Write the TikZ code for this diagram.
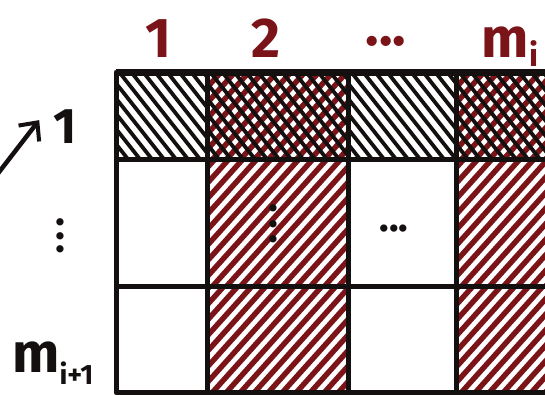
\documentclass[tikz,border=0pt]{standalone}
\usepackage{fontspec}
\setmainfont{Fira Sans}
\usetikzlibrary{calc,arrows.meta}
\definecolor{inkred}{HTML}{7A1418}
\definecolor{inkblack}{HTML}{141010}
\tikzset{
  cellbox/.style={draw=none, inner sep=0pt, anchor=north west},
  gridline/.style={draw=inkblack, line width=5pt, line join=round},
  redline/.style={draw=inkred, line width=5.4pt, line cap=round},
  blackline/.style={draw=inkblack, line width=3.8pt, line cap=round},
  toplab/.style={text=inkred, font=\bfseries\fontsize{56}{60}\selectfont, anchor=base, inner sep=0pt},
  sidelab/.style={text=inkblack, font=\bfseries\fontsize{56}{60}\selectfont, anchor=base, inner sep=0pt},
  dotlab/.style={text=inkblack, font=\bfseries\fontsize{40}{40}\selectfont, inner sep=0pt},
  vdotlab/.style={dotlab, rotate=-90},
}
\newcommand\redhatch[1]{%
  \begin{scope}
    \clip (#1.south west) rectangle (#1.north east);
    \foreach \k in {-16,...,16}
      \draw[redline] ($(#1.south west)+(\k*14,6)$) -- ++(180,-200);
  \end{scope}}
\newcommand\blackhatch[1]{%
  \begin{scope}
    \clip (#1.south west) rectangle (#1.north east);
    \foreach \k in {-16,...,16}
      \draw[blackline] ($(#1.north west)+(\k*12,-4)$) -- ++(150,190);
  \end{scope}}
\begin{document}
\begin{tikzpicture}[x=1pt,y=-1pt]
  \useasboundingbox (0,0) rectangle (545,394);
  \clip (0,0) rectangle (545,394);
  % cells: columns 116|207|348|456|600, rows 72|159|286|392
  \node[cellbox, minimum width=91pt, minimum height=87pt] (c11) at (116,72) {};
  \node[cellbox, minimum width=141pt, minimum height=87pt] (c12) at (207,72) {};
  \node[cellbox, minimum width=108pt, minimum height=87pt] (c13) at (348,72) {};
  \node[cellbox, minimum width=144pt, minimum height=87pt] (c14) at (456,72) {};
  \node[cellbox, minimum width=91pt, minimum height=127pt] (c21) at (116,159) {};
  \node[cellbox, minimum width=141pt, minimum height=127pt] (c22) at (207,159) {};
  \node[cellbox, minimum width=108pt, minimum height=127pt] (c23) at (348,159) {};
  \node[cellbox, minimum width=144pt, minimum height=127pt] (c24) at (456,159) {};
  \node[cellbox, minimum width=91pt, minimum height=106pt] (c31) at (116,286) {};
  \node[cellbox, minimum width=141pt, minimum height=106pt] (c32) at (207,286) {};
  \node[cellbox, minimum width=108pt, minimum height=106pt] (c33) at (348,286) {};
  \node[cellbox, minimum width=144pt, minimum height=106pt] (c34) at (456,286) {};
  % hatching
  \blackhatch{c11}
  \redhatch{c12}\blackhatch{c12}
  \blackhatch{c13}
  \redhatch{c14}\blackhatch{c14}
  \redhatch{c22}\redhatch{c24}
  \redhatch{c32}\redhatch{c34}
  % grid
  \foreach \c in {c11,c12,c13,c14,c21,c22,c23,c24,c31,c32,c33,c34}
    \draw[gridline] (\c.south west) rectangle (\c.north east);
  \draw[gridline, line width=7pt] (c11.north west) -- (c14.north east);
  % cell dots
  \node[vdotlab] (vd) at (273,224) {.\kern6pt.\kern6pt.};
  \node[dotlab] (hd) at (394,229) {...};
  % column labels
  \node[toplab] (h1) at (158,57) {1};
  \node[toplab] (h2) at (266,57) {2};
  \node[toplab] (h3) at (386,45) {...};
  \node[toplab] (h4) at (510,57) {m\raisebox{-9pt}{\fontsize{32}{32}\selectfont i}};
  % row labels
  \node[sidelab, font=\bfseries\fontsize{50}{54}\selectfont] (r1) at (65,143) {1};
  \coordinate (atail) at (-4,176);
  \draw[inkblack, line width=4.5pt, -{Straight Barb[length=14pt,width=26pt,line width=4pt]}] (atail) -- ($(r1.west)+(-14,-6)$);
  \node[vdotlab] (ld) at (60,236) {.\kern4pt.\kern4pt.};
  \node[sidelab, anchor=base west] (rm) at (12,372) {m\raisebox{-12pt}{\fontsize{28}{28}\selectfont i+1}};
\end{tikzpicture}
\end{document}
